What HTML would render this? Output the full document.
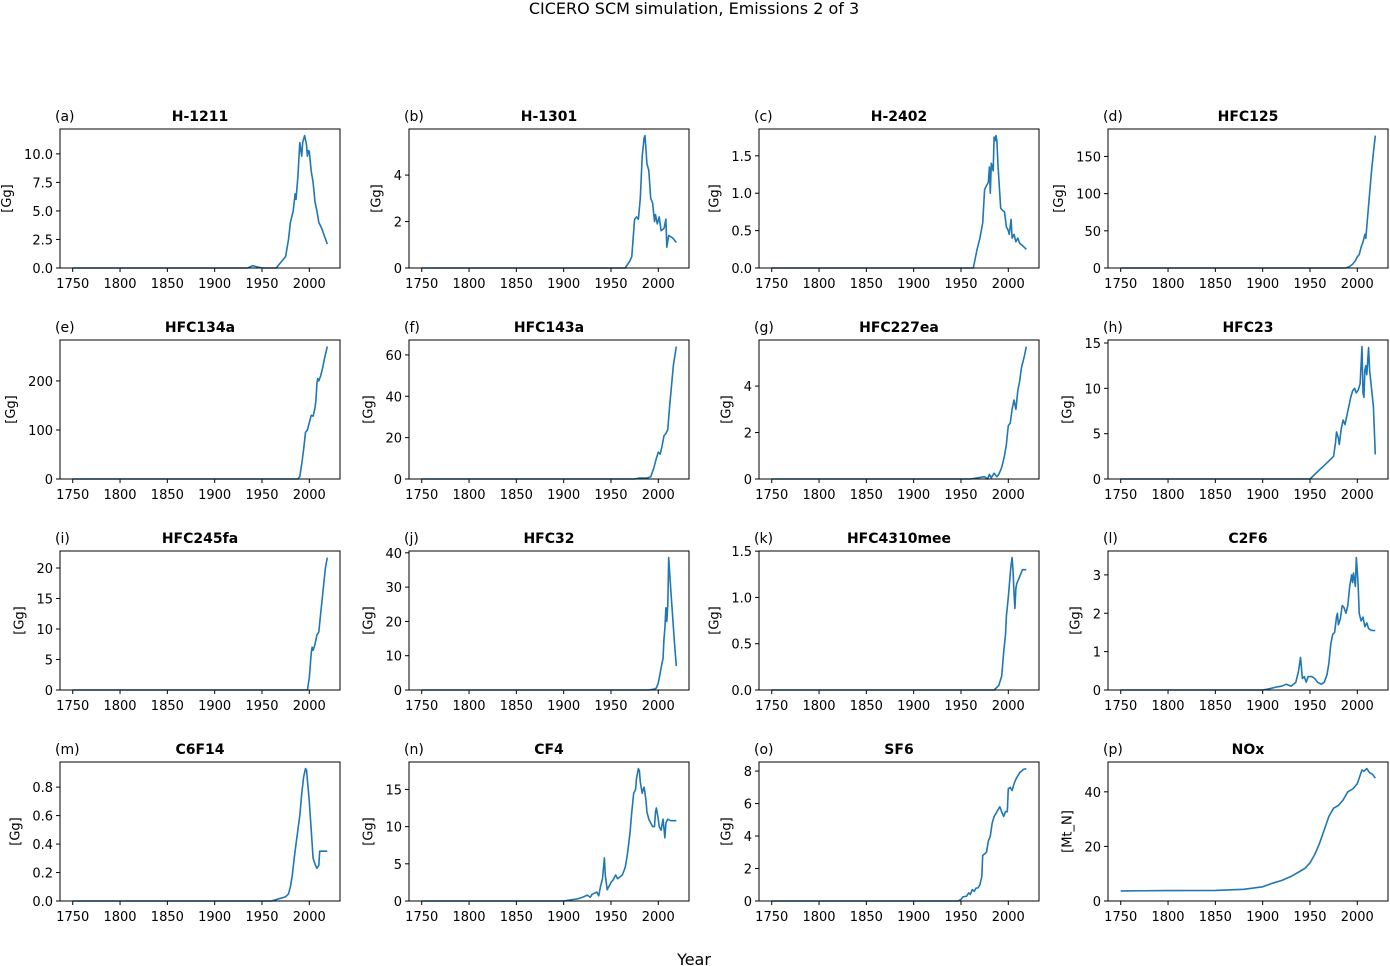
<!DOCTYPE html>
<html><head><meta charset="utf-8">
<style>
html,body{margin:0;padding:0;background:#fff;}
svg{display:block;font-family:"DejaVu Sans","Liberation Sans",sans-serif;}
</style></head>
<body>
<svg id="fig" width="1390" height="966" viewBox="0 0 1390 966">
<text x="694" y="14" text-anchor="middle" font-size="16" fill="#000">CICERO SCM simulation, Emissions 2 of 3</text>
<text x="694" y="966" dy="-1" text-anchor="middle" font-size="16" fill="#000">Year</text>
</svg>
<script>
const letters = ["a","b","c","d","e","f","g","h","i","j","k","l","m","n","o","p"];
const titles = ["H-1211","H-1301","H-2402","HFC125","HFC134a","HFC143a","HFC227ea","HFC23","HFC245fa","HFC32","HFC4310mee","C2F6","C6F14","CF4","SF6","NOx"];
const units = ["[Gg]","[Gg]","[Gg]","[Gg]","[Gg]","[Gg]","[Gg]","[Gg]","[Gg]","[Gg]","[Gg]","[Gg]","[Gg]","[Gg]","[Gg]","[Mt_N]"];
const xTicks = [1750,1800,1850,1900,1950,2000];
const yTicks_a = [0,2.5,5,7.5,10];
const yTicks_b = [0,2,4];
const yTicks_c = [0,0.5,1,1.5];
const yTicks_d = [0,50,100,150];
const yTicks_e = [0,100,200];
const yTicks_f = [0,20,40,60];
const yTicks_g = [0,2,4];
const yTicks_h = [0,5,10,15];
const yTicks_i = [0,5,10,15,20];
const yTicks_j = [0,10,20,30,40];
const yTicks_k = [0,0.5,1,1.5];
const yTicks_l = [0,1,2,3];
const yTicks_m = [0,0.2,0.4,0.6,0.8];
const yTicks_n = [0,5,10,15];
const yTicks_o = [0,2,4,6,8];
const yTicks_p = [0,20,40];
const yDec = [1,0,1,0,0,0,0,0,0,0,1,0,1,0,0,0];

const years_a = [1750,1935,1940,1945,1950,1965,1970,1975,1978,1980,1983,1985,1986,1988,1990,1992,1993,1995,1997,1998,1999,2000,2002,2004,2006,2008,2010,2013,2016,2019];
const vals_a  = [0,0,0.2,0.1,0,0,0.5,1,2.5,4,5,6.5,6,8,11,9.8,11,11.6,10.8,9.8,10.3,10.2,8.5,7.5,5.8,5,4,3.5,2.8,2.1];
const years_b = [1750,1965,1970,1972,1975,1977,1979,1981,1983,1985,1986,1988,1990,1992,1994,1996,1997,1999,2001,2003,2006,2008,2009,2011,2015,2019];
const vals_b  = [0,0,0.3,0.5,2.1,2.2,2.1,3,4.8,5.6,5.7,4.5,4.2,3,2.8,2,2.3,1.9,2.2,1.6,1.7,2.1,0.9,1.4,1.3,1.1];
const years_c = [1750,1963,1967,1970,1973,1975,1977,1979,1980,1981,1982,1984,1985,1986,1987,1988,1989,1990,1992,1994,1996,1998,2000,2001,2003,2004,2006,2008,2010,2012,2015,2019];
const vals_c  = [0,0,0.25,0.4,0.6,1.05,1.1,1.15,1.35,1.0,1.4,1.3,1.75,1.7,1.77,1.7,1.4,1.2,0.8,0.77,0.75,0.55,0.5,0.45,0.65,0.4,0.45,0.35,0.4,0.33,0.3,0.25];
const years_d = [1750,1988,1992,1995,1998,2000,2002,2004,2006,2008,2009,2011,2013,2015,2017,2019];
const vals_d  = [0,0,2,5,10,15,18,28,35,45,40,70,100,130,155,178];
const years_e = [1750,1988,1990,1992,1994,1996,1998,2000,2002,2004,2006,2007,2008,2009,2010,2012,2014,2016,2019];
const vals_e  = [0,0,5,30,60,95,100,115,130,128,145,160,195,205,200,210,225,245,270];
const years_f = [1750,1975,1980,1988,1992,1995,1998,2000,2002,2004,2006,2008,2010,2012,2014,2016,2019];
const vals_f  = [0,0,0.5,0.5,1,5,10,13,12,16,21,22,24,35,45,55,64];
const years_g = [1750,1960,1975,1978,1980,1982,1985,1988,1990,1993,1996,1998,2000,2002,2004,2006,2008,2010,2012,2014,2017,2019];
const vals_g  = [0,0,0.1,0,0.2,0.05,0.25,0.1,0.2,0.5,1,1.5,2.3,2.4,3,3.4,3,3.8,4.2,4.8,5.3,5.7];
const years_h = [1750,1950,1955,1960,1965,1970,1975,1977,1978,1980,1981,1983,1985,1987,1989,1991,1993,1995,1997,1999,2001,2003,2005,2006,2007,2008,2009,2010,2011,2012,2013,2015,2017,2019];
const vals_h  = [0,0,0.5,1,1.5,2,2.5,4,5.2,4.5,3.8,5.5,6.5,6,7,8,9,9.7,10,9.5,9.8,10.5,14.6,9.5,9,12,12.5,11.5,13,14.5,12,10,8,2.7];
const years_i = [1750,1998,2000,2002,2003,2004,2006,2008,2010,2011,2013,2015,2017,2019];
const vals_i  = [0,0,2,6,7,6.5,7.5,9,9.5,11,14,17,20,21.7];
const years_j = [1750,1990,1996,1998,2000,2002,2004,2005,2006,2007,2008,2009,2010,2011,2013,2015,2017,2019];
const vals_j  = [0,0,0.3,0.6,2,5,8,9,15,18,24,20,25,38.6,30,22,14,7];
const years_k = [1750,1985,1990,1993,1995,1997,1998,2000,2002,2003,2004,2005,2006,2007,2008,2009,2011,2013,2015,2019];
const vals_k  = [0,0,0.05,0.15,0.4,0.6,0.8,1.0,1.25,1.35,1.43,1.3,1.05,0.88,1.1,1.15,1.2,1.25,1.3,1.3];
const years_l = [1750,1900,1905,1910,1915,1920,1925,1930,1935,1938,1940,1942,1944,1946,1948,1952,1955,1958,1962,1965,1968,1970,1972,1974,1976,1978,1979,1980,1982,1984,1986,1988,1990,1992,1994,1995,1996,1998,1999,2000,2001,2002,2004,2006,2008,2010,2012,2015,2019];
const vals_l  = [0,0,0.02,0.05,0.08,0.1,0.15,0.1,0.2,0.5,0.85,0.3,0.35,0.2,0.35,0.35,0.3,0.2,0.15,0.2,0.4,0.7,1.2,1.45,1.5,1.9,2,1.7,1.85,2.2,2.15,2.0,2.2,2.7,3.0,2.8,3.05,2.7,3.45,3.1,2.7,2.0,1.8,1.9,1.65,1.75,1.6,1.55,1.55];
const years_m = [1750,1960,1970,1975,1978,1980,1982,1984,1986,1988,1990,1992,1994,1996,1997,1998,2000,2002,2004,2006,2008,2010,2011,2014,2019];
const vals_m  = [0,0,0.02,0.03,0.05,0.1,0.18,0.3,0.4,0.5,0.6,0.75,0.87,0.93,0.92,0.85,0.7,0.5,0.3,0.26,0.23,0.25,0.35,0.35,0.35];
const years_n = [1750,1900,1910,1915,1920,1925,1928,1930,1935,1937,1939,1941,1943,1944,1946,1948,1950,1952,1955,1957,1959,1962,1965,1967,1970,1972,1974,1976,1977,1979,1980,1981,1983,1984,1985,1986,1987,1988,1990,1992,1994,1996,1997,1998,2000,2001,2003,2005,2007,2008,2010,2013,2016,2019];
const vals_n  = [0,0,0.2,0.3,0.5,0.8,0.5,0.9,1.2,0.7,2,3,5.8,3.5,1.5,2,2.5,2.8,3.5,3,3.2,3.5,4.5,6,9,12,14.5,15,16.5,17.8,17.5,16,14.5,15,15.3,14.5,13.5,12,11,10.5,10,10,12,12.5,11,10,9.5,11,8.5,10.5,11,10.8,10.8,10.8];
const years_o = [1750,1947,1950,1952,1956,1958,1960,1962,1964,1966,1968,1970,1972,1973,1975,1977,1979,1981,1983,1985,1987,1989,1991,1993,1995,1997,1999,2000,2002,2004,2006,2008,2010,2012,2014,2016,2019];
const vals_o  = [0,0,0.1,0.25,0.3,0.5,0.4,0.7,0.6,0.8,0.8,1.0,1.5,2.8,2.9,3.0,3.7,4.0,4.8,5.2,5.4,5.6,5.8,5.5,5.2,5.5,5.5,6.9,7.0,6.8,7.2,7.5,7.7,7.9,8.0,8.1,8.15];
const years_p = [1750,1800,1850,1880,1900,1910,1920,1930,1940,1945,1950,1955,1960,1965,1970,1975,1980,1985,1990,1995,2000,2003,2005,2007,2010,2013,2016,2019];
const vals_p  = [3.7,3.8,3.9,4.3,5.2,6.5,7.5,9,11,12,14,17,21,26,31,34,35,37,40,41,43,46,48,47.5,48.5,47,46.5,45];

const allYears = [years_a,years_b,years_c,years_d,years_e,years_f,years_g,years_h,years_i,years_j,years_k,years_l,years_m,years_n,years_o,years_p];
const allVals = [vals_a,vals_b,vals_c,vals_d,vals_e,vals_f,vals_g,vals_h,vals_i,vals_j,vals_k,vals_l,vals_m,vals_n,vals_o,vals_p];
const allYT = [yTicks_a,yTicks_b,yTicks_c,yTicks_d,yTicks_e,yTicks_f,yTicks_g,yTicks_h,yTicks_i,yTicks_j,yTicks_k,yTicks_l,yTicks_m,yTicks_n,yTicks_o,yTicks_p];

const NS = "http://www.w3.org/2000/svg";
const fig = document.getElementById("fig");
const colX = [60,409,759,1108], rowY = [129,340,551,762];
const W = 280, H = 139;
function mk(tag, attrs, parent){ const e=document.createElementNS(NS,tag); for(const k in attrs) e.setAttribute(k,attrs[k]); parent.appendChild(e); return e; }
function strW(s){ let w=0; for(const c of s) w += (c==='.')?4.1:8.3; return w; }

for(let p=0;p<16;p++){
  const x0 = colX[p%4], y0 = rowY[Math.floor(p/4)];
  const ys = allYears[p], vs = allVals[p];
  const xmin = Math.min(...ys), xmax = Math.max(...ys), pad = (xmax-xmin)*0.05;
  const xlo = xmin-pad, xhi = xmax+pad;
  const ymax = Math.max(...vs)*1.05;
  const sx = v => x0 + (v-xlo)/(xhi-xlo)*W;
  const sy = v => y0 + H - v/ymax*H;
  const g = mk("g",{},fig);
  
  
  const t1 = mk("text",{x:x0-5,y:y0-8,"font-size":14,fill:"#000"},g);
  t1.textContent = "("+letters[p]+")";
  
  
  const t2 = mk("text",{x:x0+W/2,y:y0-8,"font-size":14,"font-weight":"bold","text-anchor":"middle",fill:"#000"},g);
  t2.textContent = titles[p];
  
  
  let maxW = 0;
  for(const t of xTicks){
    const X = sx(t);
    const l = mk("line",{x1:X,x2:X,y1:y0+H,y2:y0+H+4,stroke:"#000","stroke-width":1},g);
    
    
    const tx = mk("text",{x:X,y:y0+H+20,"font-size":13,"text-anchor":"middle",fill:"#000"},g);
    tx.textContent = t;
    
    
  }
  for(const t of allYT[p]){
    const Y = sy(t);
    const l = mk("line",{x1:x0-4,x2:x0,y1:Y,y2:Y,stroke:"#000","stroke-width":1},g);
    
    
    const s = t.toFixed(yDec[p]);
    maxW = Math.max(maxW, strW(s));
    const ty = mk("text",{x:x0-7,y:Y+5,"font-size":13,"text-anchor":"end",fill:"#000"},g);
    ty.textContent = s;
    
    
  }
  let d = "";
  for(let i=0;i<ys.length;i++) d += (i?"L":"M")+sx(ys[i]).toFixed(1)+","+sy(vs[i]).toFixed(1);
  const path = mk("path",{d:d,fill:"none",stroke:"#1f77b4","stroke-width":1.6,"stroke-linejoin":"round"},g);
  
  
  const fr = mk("rect",{x:x0,y:y0,width:W,height:H,fill:"none",stroke:"#000","stroke-width":1},g);
  
  
  const lx = x0 - 7 - maxW - 13;
  const yl = mk("text",{x:lx,y:y0+H/2,"font-size":13,"text-anchor":"middle",fill:"#000",transform:"rotate(-90 "+lx+" "+(y0+H/2)+")"},g);
  yl.textContent = units[p];
  
  
}
</script>
</body></html>
